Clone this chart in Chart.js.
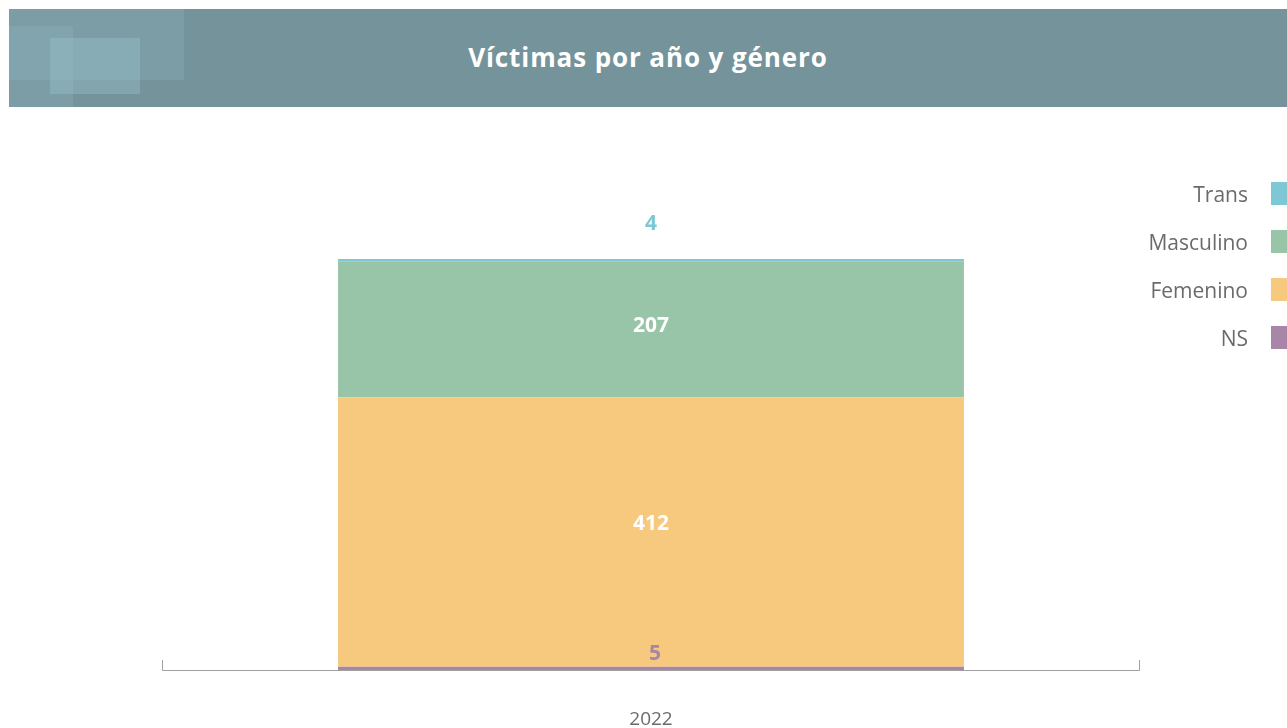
<!DOCTYPE html>
<html lang="es">
<head>
<meta charset="UTF-8">
<title>Víctimas por año y género</title>
<script src="https://cdn.jsdelivr.net/npm/chart.js"></script>
<style>
    body { margin: 0; background: #fff; font-family: 'Open Sans', sans-serif; }
    .page { position: relative; width: 1287px; height: 728px; overflow: hidden; }
    .header {
        position: absolute; left: 9px; top: 9px; width: 1278px; height: 98px;
        background: #74939a; overflow: hidden; z-index: 2;
    }
    .deco { position: absolute; background: rgba(140, 178, 190, 0.35); }
    .header h1 {
        position: absolute; left: 0; right: 0; top: 0; margin: 0;
        line-height: 96px; text-align: center; color: #fff;
        font-size: 26px; font-weight: bold; letter-spacing: 0.9px;
    }
    .chart-box { position: absolute; left: 0; top: 0; width: 1287px; height: 728px; }
    .legend { position: absolute; right: 0; top: 182px; z-index: 3; }
    .legend div {
        height: 48px; display: flex; justify-content: flex-end; align-items: flex-start;
        font-size: 21px; color: #6b6b6b;
    }
    .legend span.sw { display: inline-block; width: 16px; height: 23px; margin-left: 23px; }
    .legend span.tx { line-height: 24px; }
</style>
</head>
<body>
<div class="page">
    <div class="header">
        <div class="deco" style="left:0;top:0;width:175px;height:71px;"></div>
        <div class="deco" style="left:0;top:17px;width:64px;height:81px;"></div>
        <div class="deco" style="left:41px;top:29px;width:90px;height:56px;background:rgba(150,190,200,0.45);"></div>
        <h1>Víctimas por año y género</h1>
    </div>
    <div class="legend" id="legend"></div>
    <div class="chart-box"><canvas id="chart"></canvas></div>
</div>
<script>
// data
const years = ['2022'];
const seriesNames = ['NS', 'Femenino', 'Masculino', 'Trans'];
const nsValues = [5];
const femeninoValues = [412];
const masculinoValues = [207];
const transValues = [4];
const colors = ['#a886a8', '#f7c97f', '#98c4a8', '#7ec8d6'];
const labelColors = ['#a886a8', '#ffffff', '#ffffff', '#7ec8d6'];
const labelShift = [-13, -8, -3, -35];

// legend (top to bottom: Trans .. NS)
const legendEl = document.getElementById('legend');
for (let i = seriesNames.length - 1; i >= 0; i--) {
    const row = document.createElement('div');
    row.innerHTML = '<span class="tx">' + seriesNames[i] + '</span><span class="sw" style="background:' + colors[i] + '"></span>';
    legendEl.appendChild(row);
}

const allValues = [nsValues, femeninoValues, masculinoValues, transValues];

const overlay = {
    id: 'overlay',
    afterDatasetsDraw(chart) {
        const ctx = chart.ctx;
        const area = chart.chartArea;
        // axis line with end ticks
        ctx.save();
        ctx.strokeStyle = '#a0a0a0';
        ctx.lineWidth = 1;
        ctx.beginPath();
        ctx.moveTo(area.left + 0.5, area.bottom - 10);
        ctx.lineTo(area.left + 0.5, area.bottom + 0.5);
        ctx.lineTo(area.right - 0.5, area.bottom + 0.5);
        ctx.lineTo(area.right - 0.5, area.bottom - 10);
        ctx.stroke();

        // value labels: small segments sit above their top, big ones in the middle
        ctx.font = 'bold 21px "Open Sans", sans-serif';
        ctx.textAlign = 'center';
        ctx.textBaseline = 'middle';
        chart.data.datasets.forEach((ds, i) => {
            const meta = chart.getDatasetMeta(i);
            meta.data.forEach((bar, j) => {
                const v = ds.data[j];
                const small = Math.abs(bar.base - bar.y) < 20;
                const y = (small ? bar.y : (bar.y + bar.base) / 2) + labelShift[i];
                ctx.fillStyle = labelColors[i];
                ctx.fillText(v, bar.x + (i === 0 ? 4 : 0), y);
            });
        });
        ctx.restore();
    }
};

new Chart(document.getElementById('chart'), {
    type: 'bar',
    data: {
        labels: years,
        datasets: seriesNames.map((name, i) => ({
            label: name,
            data: allValues[i],
            backgroundColor: colors[i],
            borderWidth: 0,
            barPercentage: 0.64,
            categoryPercentage: 1
        }))
    },
    options: {
        responsive: true,
        maintainAspectRatio: false,
        animation: false,
        layout: { padding: { left: 162, right: 147, top: 212, bottom: 0 } },
        plugins: { legend: { display: false }, tooltip: { enabled: false } },
        scales: {
            x: {
                stacked: true,
                grid: { display: false },
                border: { display: false },
                ticks: { color: '#6b6b6b', font: { size: 19, family: 'Open Sans' }, padding: 30 },
                afterFit(scale) { scale.height = 58; }
            },
            y: {
                stacked: true,
                display: false,
                min: 0,
                max: 700
            }
        }
    },
    plugins: [overlay]
});
</script>
</body>
</html>
